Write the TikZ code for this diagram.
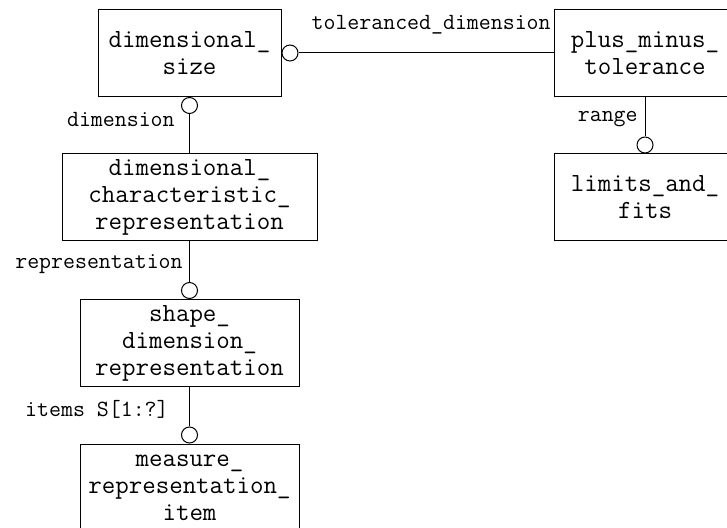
\documentclass[tikz,border=0pt]{standalone}
\usepackage{fontspec}
\begin{document}
\begin{tikzpicture}[x=0.5pt,y=-0.5pt,
  ent/.style={draw, line width=0.5pt, minimum height=43.5pt, align=center, inner sep=0pt, font=\ttfamily\fontsize{13.1}{13.5}\selectfont},
  ring/.style={draw, circle, minimum size=8pt, inner sep=0pt, line width=0.5pt},
  lbl/.style={font=\ttfamily\fontsize{11.6}{12}\selectfont, inner sep=0pt}]
\useasboundingbox (0,0) rectangle (727,528);
\clip (0,0) rectangle (727,528);
\node[ent, minimum width=91.5pt] (ent0) at (189.5,53) {dimensional\_\\size};
\node[ent, minimum width=127.5pt] (ent1) at (189.5,197.5) {dimensional\_\\characteristic\_\\representation};
\node[ent, minimum width=109.5pt] (ent2) at (189.5,343) {shape\_\\dimension\_\\representation};
\node[ent, minimum width=109.5pt] (ent3) at (189.5,487.5) {measure\_\\representation\_\\item};
\node[ent, minimum width=91pt] (ent4) at (645,53) {plus\_minus\_\\tolerance};
\node[ent, minimum width=91pt] (ent5) at (645,197.5) {limits\_and\_\\fits};
\node[ring, anchor=west] (c0) at (ent0.east) {};
\node[ring, anchor=north] (c1) at (ent0.south) {};
\node[ring, anchor=south] (c2) at (ent2.north) {};
\node[ring, anchor=south] (c3) at (ent3.north) {};
\node[ring, anchor=south] (c4) at (ent5.north) {};
\draw[line width=0.5pt] (c0) -- (ent4);
\draw[line width=0.5pt] (c1) -- (ent1);
\draw[line width=0.5pt] (ent1) -- (c2);
\draw[line width=0.5pt] (ent2) -- (c3);
\draw[line width=0.5pt] (ent4) -- (c4);
\node[lbl, anchor=east] (l0) at (551,25) {toleranced\_dimension};
\node[lbl, anchor=east] (l1) at (175,119) {dimension};
\node[lbl, anchor=east] (l2) at (183,264) {representation};
\node[lbl, anchor=east] (l3) at (169,409) {items S[1:?]};
\node[lbl, anchor=east] (l4) at (638,119) {range};
\end{tikzpicture}
\end{document}
